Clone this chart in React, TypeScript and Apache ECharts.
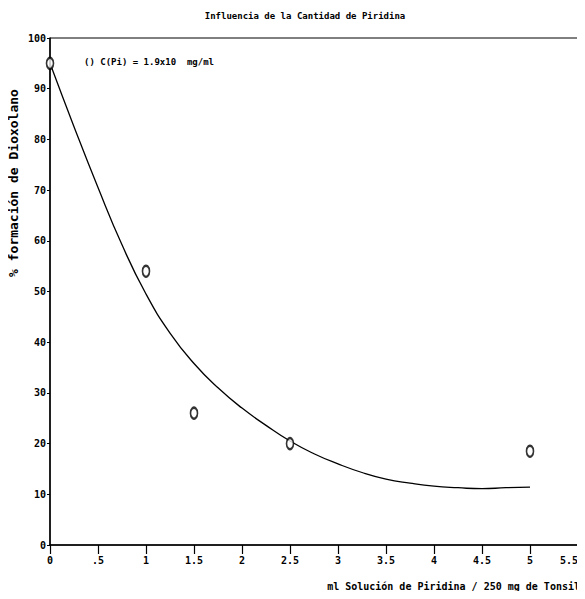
import React, { useEffect, useRef } from "react";
import * as echarts from "echarts";

const titleText = "Influencia de la Cantidad de Piridina";
const xAxisTitle = "ml Solución de Piridina / 250 mg de Tonsil";
const yAxisTitle = "% formación de Dioxolano";
const legendText = "() C(Pi) = 1.9x10  mg/ml";

const xTickLabels = ["0", ".5", "1", "1.5", "2", "2.5", "3", "3.5", "4", "4.5", "5", "5.5"];

// measured points
const pointX = [0, 1, 1.5, 2.5, 5];
const pointY = [95, 54, 26, 20, 18.5];

// fitted curve
const curveX = [0, 0.25, 0.5, 0.75, 1, 1.25, 1.5, 1.75, 2, 2.25, 2.5, 2.75, 3, 3.25, 3.5, 3.75, 4, 4.25, 4.5, 4.75, 5];
const curveY = [95, 82.5, 70.5, 59.2, 49.5, 41.8, 35.8, 31, 27, 23.6, 20.5, 18, 16, 14.3, 13, 12.2, 11.6, 11.3, 11.1, 11.3, 11.4];

const FONT = "DejaVu Sans Mono";

export default function App() {
  const ref = useRef<HTMLDivElement>(null);
  useEffect(() => {
    if (!ref.current) return;
    const chart = echarts.init(ref.current, undefined, { renderer: "svg" });
    chart.setOption({
      animation: false,
      backgroundColor: "#fff",
      title: {
        text: titleText,
        left: 300,
        top: 6,
        textAlign: "center",
        textStyle: { fontFamily: FONT, fontSize: 9, fontWeight: "bold", color: "#000" },
      },
      grid: {
        left: 50,
        right: 7,
        top: 38,
        bottom: 54,
        show: true,
        borderColor: "#000",
        borderWidth: 1,
        backgroundColor: "transparent",
      },
      xAxis: {
        type: "value",
        min: 0,
        max: 5.5,
        interval: 0.5,
        axisLine: { show: true, lineStyle: { color: "#000", width: 1.5 } },
        axisTick: { show: true, length: 9, lineStyle: { color: "#000", width: 1.2 } },
        axisLabel: {
          fontFamily: FONT,
          fontSize: 10,
          fontWeight: "bold",
          color: "#000",
          margin: 10,
          showMaxLabel: true,
          alignMaxLabel: "right",
          formatter: (v: number) => xTickLabels[Math.round(v / 0.5)] ?? "",
        },
        splitLine: { show: false },
      },
      yAxis: {
        type: "value",
        min: 0,
        max: 100,
        interval: 10,
        axisLine: { show: true, lineStyle: { color: "#000", width: 1.5 } },
        axisTick: { show: true, length: 3, lineStyle: { color: "#000", width: 1 } },
        axisLabel: {
          fontFamily: FONT,
          fontSize: 10,
          fontWeight: "bold",
          color: "#000",
          margin: 4,
        },
        splitLine: { show: false },
      },
      graphic: [
        {
          type: "text",
          x: 13,
          y: 183,
          rotation: Math.PI / 2,
          style: {
            text: yAxisTitle,
            fontFamily: FONT,
            fontSize: 13,
            fontWeight: "bold",
            fill: "#000",
            align: "center",
            verticalAlign: "middle",
          },
        },
        {
          type: "text",
          x: 84,
          y: 62,
          style: {
            text: legendText,
            fontFamily: FONT,
            fontSize: 9,
            fontWeight: "bold",
            fill: "#000",
            align: "left",
            verticalAlign: "middle",
          },
        },
        {
          type: "text",
          x: 580,
          y: 586,
          style: {
            text: xAxisTitle,
            fontFamily: FONT,
            fontSize: 10,
            fontWeight: "bold",
            fill: "#000",
            align: "right",
            verticalAlign: "middle",
          },
        },
      ],
      series: [
        {
          type: "line",
          data: curveX.map((x, i) => [x, curveY[i]]),
          smooth: 0.5,
          showSymbol: false,
          lineStyle: { color: "#000", width: 1.3 },
          itemStyle: { color: "#000" },
          z: 2,
        },
        {
          type: "scatter",
          data: pointX.map((x, i) => [x, pointY[i]]),
          symbol: "emptyCircle",
          symbolSize: [7, 11],
          itemStyle: { color: "#000", borderColor: "#000", borderWidth: 1 },
          z: 3,
        },
      ],
    });
    return () => chart.dispose();
  }, []);
  return <div ref={ref} style={{ width: 585, height: 599, margin: -8 }} />;
}
